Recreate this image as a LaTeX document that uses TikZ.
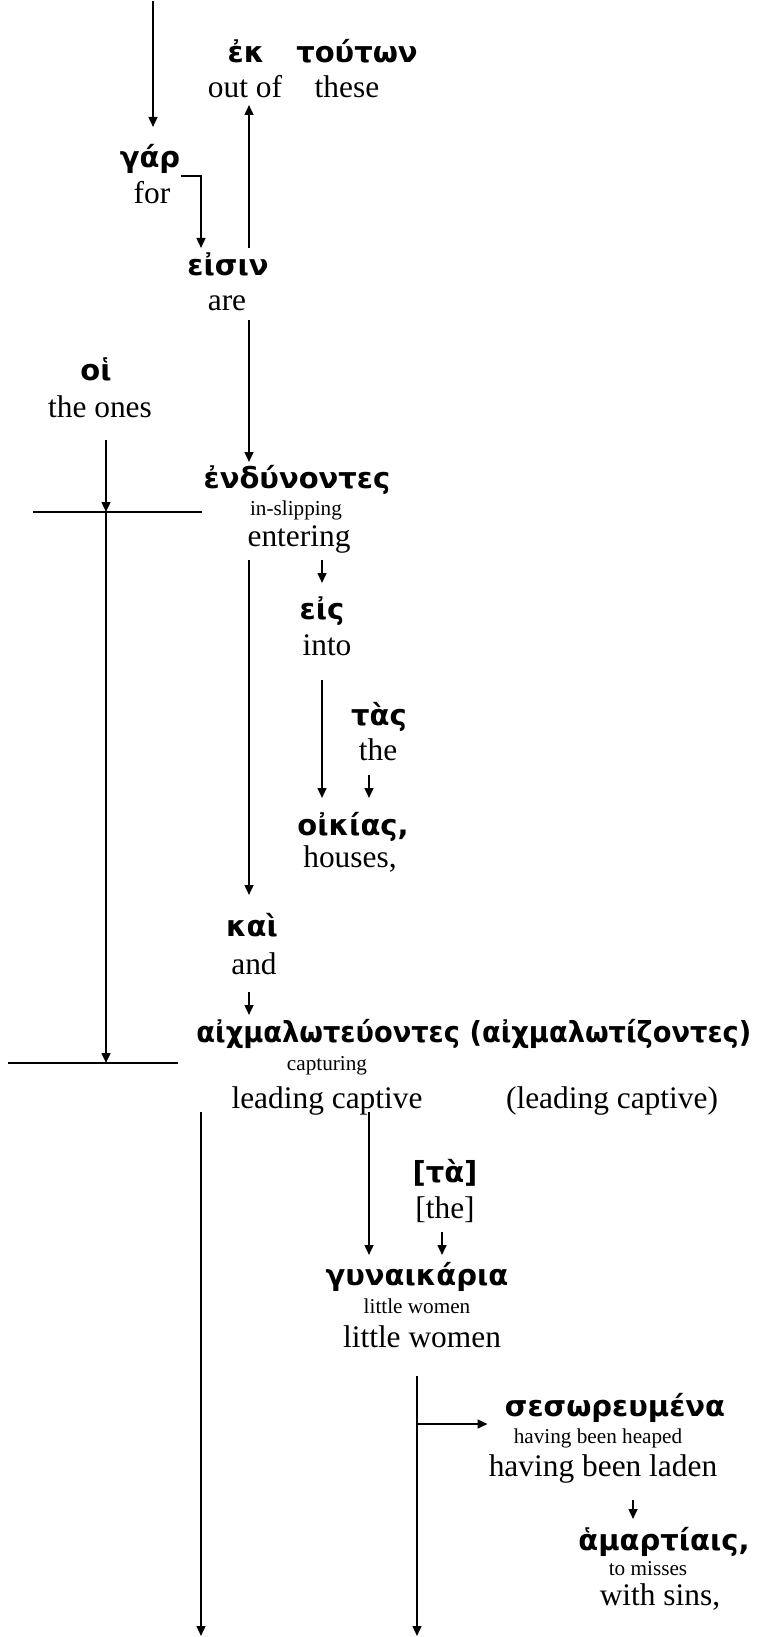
\documentclass[tikz,border=0pt]{standalone}
\usepackage{fontspec}
\setmainfont{Liberation Serif}
\newfontfamily\gkfont{DejaVu Sans}
\usetikzlibrary{arrows.meta,calc}

\begin{document}
\begin{tikzpicture}[x=0.5pt,y=0.5pt,
	gk/.style={anchor=base,font=\gkfont\bfseries\fontsize{14.5}{16}\selectfont},
	en/.style={anchor=base,font=\fontsize{15.7}{18}\selectfont},
	gl/.style={anchor=base,font=\fontsize{10.6}{12}\selectfont},
	arr/.style={black,line width=1pt,-{Triangle[length=5pt,width=4.4pt]}},
	bar/.style={black,line width=1pt}]
				\tikzstyle{every node}+=[inner sep=0pt]
				\useasboundingbox (0,0) rectangle (759,-1637);
				\coordinate (xones) at (106,0);
				\coordinate (xgar) at (153,0);
				\coordinate (xmain) at (201,0);
				\coordinate (xeisin) at (249,0);
				\coordinate (xeis) at (322,0);
				\coordinate (xgyn) at (369,0);
				\coordinate (xlw) at (417,0);
				\coordinate (xthe) at (442,0);
				\coordinate (xham) at (633,0);
				\coordinate (top) at (153,-1);
				\coordinate (endL) at (201,-1636);
				\coordinate (endR) at (417,-1636);
				\coordinate (h1a) at (33,-512);
				\coordinate (h1b) at (202,-512);
				\coordinate (h2a) at (8,-1063);
				\coordinate (h2b) at (178,-1063);
				\node [gk] (ek) at (246,-63) {ἐκ};
				\node [gk] (touton) at (357,-63) {τούτων};
				\node [en] (outof) at (245,-98) {out of};
				\node [en] (these) at (347,-98) {these};
				\node [gk] (gar) at (150,-168) {γάρ};
				\node [en] (for) at (152,-204) {for};
				\node [gk] (eisin) at (228,-275) {εἰσιν};
				\node [en] (are) at (227,-310) {are};
				\node [gk] (hoi) at (96,-380) {οἱ};
				\node [en] (theones) at (100,-417) {the ones};
				\node [gk] (endyn) at (297,-488) {ἐνδύνοντες};
				\node [gl] (inslip) at (296,-515) {in-slipping};
				\node [en] (enter) at (299,-546) {entering};
				\node [gk] (eis) at (322,-619) {εἰς};
				\node [en] (into) at (327,-655) {into};
				\node [gk] (tas) at (379,-725) {τὰς};
				\node [en] (the) at (378,-760) {the};
				\node [gk] (oikias) at (353,-835) {οἰκίας,};
				\node [en] (houses) at (350,-867) {houses,};
				\node [gk] (kai) at (252,-936) {καὶ};
				\node [en] (and) at (254,-974) {and};
				\node [gk,anchor=base west] (aichm) at (196,-1042) {\scalebox{0.94}[1]{αἰχμαλωτεύοντες (αἰχμαλωτίζοντες)}};
				\node [gl] (captur) at (327,-1070) {capturing};
				\node [en] (leading) at (327,-1108) {leading captive};
				\node [en] (leadpar) at (612,-1108) {(leading captive)};
				\node [gk] (ta) at (445,-1182) {[τὰ]};
				\node [en] (theb) at (445,-1218) {[the]};
				\node [gk] (gyn) at (417,-1285) {γυναικάρια};
				\node [gl] (lwsmall) at (417,-1313) {little women};
				\node [en] (lw) at (422,-1347) {little women};
				\node [gk] (ses) at (615,-1416) {σεσωρευμένα};
				\node [gl] (heaped) at (598,-1443) {having been heaped};
				\node [en] (laden) at (603,-1476) {having been laden};
				\node [gk] (ham) at (664,-1550) {ἁμαρτίαις,};
				\node [gl] (misses) at (648,-1575) {to misses};
				\node [en] (sins) at (660,-1605) {with sins,};
				\draw [bar] (h1a) -- (h1b);
				\draw [bar] (h2a) -- (h2b);
				\draw [arr] (top) -- ($(gar.base -| xgar)+(0,41)$);
				\draw [arr] ($(gar.base east)+(0,-8)$) -| ($(eisin.base -| xmain)+(0,27)$);
				\draw [arr] ($(eisin.base -| xeisin)+(0,27)$) -- ($(outof.base -| xeisin)+(0,-7)$);
				\draw [arr] ($(are.base -| xeisin)+(0,-10)$) -- ($(endyn.base -| xeisin)+(0,26)$);
				\draw [arr] ($(theones.base -| xones)+(0,-23)$) -- (h1a -| xones);
				\draw [arr] (h1a -| xones) -- (h2a -| xones);
				\draw [arr] ($(enter.base -| xeisin)+(0,-14)$) -- ($(kai.base -| xeisin)+(0,41)$);
				\draw [arr] ($(enter.base -| xeis)+(0,-14)$) -- ($(eis.base -| xeis)+(0,36)$);
				\draw [arr] ($(into.base -| xeis)+(0,-25)$) -- ($(oikias.base -| xeis)+(0,37)$);
				\draw [arr] ($(the.base -| xgyn)+(0,-15)$) -- ($(oikias.base -| xgyn)+(0,37)$);
				\draw [arr] ($(and.base -| xeisin)+(0,-18)$) -- ($(aichm.base -| xeisin)+(0,27)$);
				\draw [arr] ($(leading.base -| xmain)+(0,-4)$) -- (endL);
				\draw [arr] ($(leading.base -| xgyn)+(0,-4)$) -- ($(gyn.base -| xgyn)+(0,30)$);
				\draw [arr] ($(theb.base -| xthe)+(0,-14)$) -- ($(gyn.base -| xthe)+(0,30)$);
				\draw [arr] ($(lw.base -| xlw)+(0,-29)$) -- (endR);
				\draw [arr] ($(ses.base -| xlw)+(0,-8)$) -- ($(ses.base west)+(-17,-8)$);
				\draw [arr] ($(laden.base -| xham)+(0,-24)$) -- ($(ham.base -| xham)+(0,31)$);
			\end{tikzpicture}
\end{document}
